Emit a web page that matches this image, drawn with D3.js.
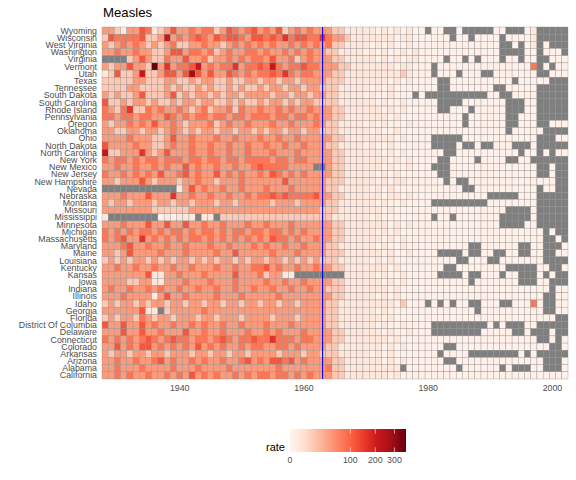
<!DOCTYPE html>
<html>
<head>
<meta charset="utf-8">
<script src="https://cdn.jsdelivr.net/npm/d3@7"></script>
<style>
  body { margin: 0; background: #fff; }
  text { font-family: "Liberation Sans", Arial, sans-serif; }
</style>
</head>
<body>
<svg id="chart" width="576" height="480"></svg>
<script>
// states from top to bottom, as in the picture
var states = ["Wyoming","Wisconsin","West Virginia","Washington","Virginia","Vermont","Utah",
  "Texas","Tennessee","South Dakota","South Carolina","Rhode Island","Pennsylvania","Oregon",
  "Oklahoma","Ohio","North Dakota","North Carolina","New York","New Mexico","New Jersey",
  "New Hampshire","Nevada","Nebraska","Montana","Missouri","Mississippi","Minnesota","Michigan",
  "Massachusetts","Maryland","Maine","Louisiana","Kentucky","Kansas","Iowa","Indiana","Illinois",
  "Idaho","Georgia","Florida","District Of Columbia","Delaware","Connecticut","Colorado",
  "Arkansas","Arizona","Alabama","California"];

var firstYear = 1928, lastYear = 2002;

// rate read off the tiles, one char per year 1928..2002 ("." = no data),
// char -> rate per 10,000 via levelRate below
var levelRate = {"0": 0.3, "1": 2.5, "2": 15, "3": 45, "4": 80, "5": 115, "6": 160, "7": 215, "8": 280, "9": 370};

var rateRows = [
  "3321335412353343442354345" + "3435234343332211111010101" + "00.00..0.....00...01.....",
  "2544445223734345435455435" + "5454645544643321111111011" + "000000.00.0000.00001.....",
  "3234343232342233433234343" + "4343343434342211110101001" + "00000000000000..0.01.0...",
  "3343343322355344342343344" + "3433434343322111101010010" + "10000000000000....00.000.",
  "....235322433533423343434" + "4353342343332211111010101" + "10000.00.0.000.00.00..000",
  "3233533293634457343446344" + "5474344544333221111111011" + "000.0000000000000004.0.00",
  "1252237223553585353354343" + "4454643443332211111111121" + "000.000.000..0000000..000",
  "2222233222332232332232233" + "2332332333322211111110101" + "0000..0000000000.00000...",
  "2222332222323223232232322" + "3233233233222111110101000" + "0000..0000000..00000.....",
  "3232235222352323323233233" + "3323323323322111101001000" + ".0..........00..0000.....",
  "5223233232232332332232322" + "3233232332222111111010010" + "0000....0000000...00.....",
  "4324622434334323423342433" + "4334343343332211111101010" + "0000..000.00000...00.....",
  "4434434433543434434434434" + "4434434434332211111110100" + "00000000.000000..000.....",
  "3233434353343233342343343" + "3343343334322111101010001" + "00000000.000000..000..000",
  "3322332332343232332332332" + "3233233233222111110100100" + "000000000000000.00000....",
  "3333433322353343334334333" + "4334334333332211111111010" + "000.....000000000000...00",
  "5333343322343343343343343" + "3433433433322111101001000" + "000....0..0..000...0.....",
  "7223336323533343343343343" + "3343334333332211111101010" + "00000..0000000000.00.0.00",
  "4344343443444344344344344" + "4434434433332211111110101" + "0000..0000.0000..00......",
  "3343343343433534334334334" + "544443333..32211111101001" + "000...00000000000000..0..",
  "4334343435334534335343433" + "4354343433332211111010100" + "0000..00000000000000..0..",
  "3323335323332334332333433" + "3333533333322211111010110" + "00000.0..00000000000000..",
  "............1353433433433" + "3433343333322111110101000" + "00000000..0000000000.00..",
  "3334333533363343343343343" + "4454544445332211111101101" + "000000000000.....000.....",
  "3233233323323323332332333" + "3323332333322111111010010" + "000.........00000000.....",
  "3333333322222233333333333" + "3333333333222111111101000" + "000000000000000....0.....",
  "1........010111.11.222222" + "2222222222221111110100000" + "000.00.0000000.....0.....",
  "3334333533533533433433343" + "3433343333332211111110101" + "00000000000000....00.....",
  "4343434434344343443434434" + "4344343433332211111010100" + "000000000000000000000.0..",
  "4345336343434344343434343" + "4354434334332211111101010" + "000000000000000000000..0.",
  "3334533433433433343343334" + "3433433433322111111010010" + "000000000..000000..00...0",
  "3323533334333433334335333" + "3343334333322211111101001" + "0000....0..00..00..00..00",
  "2323233232323323232332323" + "3233232323222111110101000" + "0000000..000..0000000....",
  "3343343343343343334334334" + "4534334334332211111110100" + "00000..00000000.....00..0",
  "3333333511334333433335333" + "423311........11111010010" + "0000....0..000.00...0.0..",
  "3333223311333433343334333" + "3433433433332211111101010" + "000000000.0000000...00...",
  "3433433434334334334334334" + "3343343343322211111110100" + "0000000000000000000000.00",
  "3334333313533433334333433" + "3334333333332211111010100" + "000000000000000000000..00",
  "2323323233233233233233233" + "2332332333322111111111020" + "00.0.0.00..000..00040..00",
  "333333511.233333433333333" + "3333333333322111111010000" + "0000000000.0000000000..00",
  "2323324323323332332333233" + "3323332333322111111101000" + "00000000000000000000000..",
  "5335335343343343433433433" + "3433343333322111111010010" + "000.........0.0...00.....",
  "3335335334333533433433343" + "3434333433332211111101001" + "000........00000..0...0..",
  "4343434543454434434543445" + "4464443443332211111110100" + "00000000000000000000..0.0",
  "3353435534343435343433434" + "4334434333322111111101010" + "00000..000000000000000..0",
  "3233233233233323323323323" + "3332333233222111110101000" + "0000.0000........0.0.....",
  "3343343345343343433433453" + "4355453433332211111101010" + "00000..00000000000000...0",
  "3343334333343334333343333" + "33343333333422111111111.0" + "0000000.000000.0...00...0",
  "3343433433434353434334343" + "4434434343332211111110100" + "0000000000000000000000000"
];

var xTicks = [1940, 1960, 1980, 2000];
var legendTicks = [0, 100, 200, 300];
var vaccineYear = 1963;

// build tiles
var tiles = [];
states.forEach(function (s, i) {
  var row = rateRows[i];
  for (var j = 0; j <= lastYear - firstYear && j < row.length; j++) {
    var ch = row.charAt(j);
    tiles.push({ state: s, year: firstYear + j, rate: ch === "." ? null : levelRate[ch] });
  }
});

var svg = d3.select("#chart");
var margin = { top: 27, right: 8, bottom: 101, left: 102 };
var W = 576, H = 480;

var x = d3.scaleLinear()
  .domain([firstYear - 0.5, lastYear + 0.5])
  .range([margin.left, W - margin.right]);

var y = d3.scaleBand()
  .domain(states)
  .range([margin.top, H - margin.bottom]);

var reds = ["#FFF5F0","#FEE0D2","#FCBBA1","#FC9272","#FB6A4A","#EF3B2C","#CB181D","#A50F15","#67000D"];
var maxRate = d3.max(tiles, function (d) { return d.rate; });
var sq = d3.scaleSqrt().domain([0, maxRate]).range([0, 1]);
var ramp = d3.scaleLinear()
  .domain(reds.map(function (c, i) { return i / (reds.length - 1); }))
  .range(reds)
  .interpolate(d3.interpolateLab);
function fill(d) { return d.rate === null ? "#7F7F7F" : ramp(sq(d.rate)); }

// title
svg.append("text")
  .attr("x", margin.left + 1)
  .attr("y", 17)
  .style("font-size", "13.2px")
  .style("fill", "#000")
  .text("Measles");

// tiles
svg.append("g")
  .selectAll("rect")
  .data(tiles)
  .enter()
  .append("rect")
  .attr("x", function (d) { return x(d.year - 0.5); })
  .attr("y", function (d) { return y(d.state); })
  .attr("width", x(1) - x(0))
  .attr("height", y.bandwidth())
  .attr("fill", fill)
  .attr("stroke", "#8c8c8c")
  .attr("stroke-width", 0.35);

// vaccine line
svg.append("line")
  .attr("x1", x(vaccineYear)).attr("x2", x(vaccineYear))
  .attr("y1", margin.top).attr("y2", H - margin.bottom)
  .attr("stroke", "#0000FF")
  .attr("stroke-width", 1.1);

// y labels
svg.append("g")
  .selectAll("text")
  .data(states)
  .enter()
  .append("text")
  .attr("x", margin.left - 5)
  .attr("y", function (d) { return y(d) + y.bandwidth() / 2; })
  .attr("dy", "0.35em")
  .attr("text-anchor", "end")
  .style("font-size", "8.8px")
  .style("fill", "#4D4D4D")
  .text(function (d) { return d; });

// x labels
svg.append("g")
  .selectAll("text")
  .data(xTicks)
  .enter()
  .append("text")
  .attr("x", function (d) { return x(d); })
  .attr("y", H - margin.bottom + 12)
  .attr("text-anchor", "middle")
  .style("font-size", "8.8px")
  .style("fill", "#4D4D4D")
  .text(function (d) { return d; });

// legend
var lg = { x: 290, y: 429, w: 116, h: 23 };
var lx = d3.scaleSqrt().domain([0, maxRate]).range([lg.x, lg.x + lg.w]);

var grad = svg.append("defs").append("linearGradient")
  .attr("id", "rateGrad")
  .attr("x1", "0%").attr("x2", "100%").attr("y1", "0%").attr("y2", "0%");
d3.range(0, 1.0001, 0.05).forEach(function (t) {
  grad.append("stop").attr("offset", (t * 100) + "%").attr("stop-color", ramp(t));
});

svg.append("rect")
  .attr("x", lg.x).attr("y", lg.y)
  .attr("width", lg.w).attr("height", lg.h)
  .attr("fill", "url(#rateGrad)");

var lt = svg.append("g");
legendTicks.forEach(function (v) {
  if (v === 0) return;
  lt.append("line")
    .attr("x1", lx(v)).attr("x2", lx(v))
    .attr("y1", lg.y).attr("y2", lg.y + lg.h / 5)
    .attr("stroke", "#fff").attr("stroke-width", 0.6);
  lt.append("line")
    .attr("x1", lx(v)).attr("x2", lx(v))
    .attr("y1", lg.y + lg.h * 4 / 5).attr("y2", lg.y + lg.h)
    .attr("stroke", "#fff").attr("stroke-width", 0.6);
});

svg.append("g")
  .selectAll("text")
  .data(legendTicks)
  .enter()
  .append("text")
  .attr("x", function (d) { return lx(d); })
  .attr("y", lg.y + lg.h + 11)
  .attr("text-anchor", "middle")
  .style("font-size", "8.8px")
  .style("fill", "#4D4D4D")
  .text(function (d) { return d; });

svg.append("text")
  .attr("x", lg.x - 5)
  .attr("y", lg.y + lg.h - 1)
  .attr("text-anchor", "end")
  .style("font-size", "11px")
  .style("fill", "#000")
  .text("rate");
</script>
</body>
</html>
